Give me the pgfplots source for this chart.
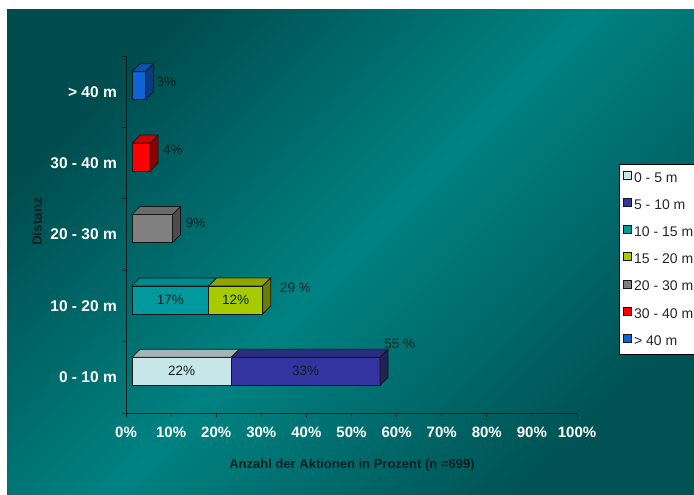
\documentclass[border=0pt]{standalone}
\usepackage{pgfplots}
\pgfplotsset{compat=1.18}
\usepackage{fontspec}
\setmainfont{Liberation Sans}

% background
\definecolor{bgA}{HTML}{004C4E}
\definecolor{bgB}{HTML}{008282}
\definecolor{bgC}{HTML}{005254}
\definecolor{axisdark}{HTML}{0A1E1E}
\definecolor{labeldark}{HTML}{0C2020}
\definecolor{edgec}{HTML}{151515}
% series colours: front, top, side
\definecolor{cA}{HTML}{C6E6EA}\definecolor{cAtop}{HTML}{A7B4B6}\definecolor{cAside}{HTML}{8A9A9C}
\definecolor{cB}{HTML}{3434A0}\definecolor{cBtop}{HTML}{2B2B80}\definecolor{cBside}{HTML}{212158}
\definecolor{cC}{HTML}{009A9E}\definecolor{cCtop}{HTML}{00898C}\definecolor{cCside}{HTML}{006A6C}
\definecolor{cD}{HTML}{A6CC00}\definecolor{cDtop}{HTML}{8CA800}\definecolor{cDside}{HTML}{6C7C00}
\definecolor{cE}{HTML}{808080}\definecolor{cEtop}{HTML}{6A6A6A}\definecolor{cEside}{HTML}{4C4C4C}
\definecolor{cF}{HTML}{FF0000}\definecolor{cFtop}{HTML}{D20000}\definecolor{cFside}{HTML}{8E0000}
\definecolor{cG}{HTML}{0E64D4}\definecolor{cGtop}{HTML}{0A52AC}\definecolor{cGside}{HTML}{073C80}

\tikzset{
  bar3d/.style={xshift=6bp, yshift=6bp, draw=edgec, line width=0.7bp},
  vlab/.style={font=\fontsize{13.5bp}{15bp}\selectfont, text=labeldark, inner sep=0pt},
}

% half bar height, depth offsets (axis units)
\def\hh{0.196}
\def\dyy{0.112}
\def\dxx{1.77}

% one bar segment: start, value, category, front colour, top colour
\newcommand{\barseg}[5]{%
  \pgfmathsetmacro\xe{#1+#2}%
  \pgfmathsetmacro\ylo{#3-\hh}%
  \pgfmathsetmacro\yhi{#3+\hh}%
  \pgfmathsetmacro\ytp{#3+\hh+\dyy}%
  \pgfmathsetmacro\xa{#1+\dxx}%
  \pgfmathsetmacro\xb{\xe+\dxx}%
  \edef\tmp{\noexpand\addplot[forget plot, bar3d, fill=#4] coordinates {(#1,\ylo) (\xe,\ylo) (\xe,\yhi) (#1,\yhi)} -- cycle;
    \noexpand\addplot[forget plot, bar3d, fill=#5] coordinates {(#1,\yhi) (\xe,\yhi) (\xb,\ytp) (\xa,\ytp)} -- cycle;}%
  \tmp}
% right side face of a bar: end value, category, side colour
\newcommand{\barside}[3]{%
  \pgfmathsetmacro\ylo{#2-\hh}%
  \pgfmathsetmacro\ylp{#2-\hh+\dyy}%
  \pgfmathsetmacro\yhi{#2+\hh}%
  \pgfmathsetmacro\ytp{#2+\hh+\dyy}%
  \pgfmathsetmacro\xb{#1+\dxx}%
  \edef\tmp{\noexpand\addplot[forget plot, bar3d, fill=#3] coordinates {(#1,\ylo) (\xb,\ylp) (\xb,\ytp) (#1,\yhi)} -- cycle;}%
  \tmp}

\begin{document}
\begin{tikzpicture}[x=1bp,y=1bp]
\useasboundingbox (0,0) rectangle (694,495);
\clip (0,0) rectangle (694,495);
\fill[white] (0,0) rectangle (694,495);
\shade[top color=bgA, bottom color=bgC, middle color=bgB, shading angle=45] (7,0) rectangle (694,485);

\begin{axis}[
  at={(126bp,82bp)}, anchor=south west,
  scale only axis, width=451bp, height=357bp,
  xmin=0, xmax=100, ymin=-0.5, ymax=4.5,
  axis lines=left,
  x axis line style={-}, y axis line style={-},
  axis line style={draw=axisdark, line width=0.9bp},
  clip=false,
  tick align=outside,
  tick style={draw=axisdark, line width=0.9bp},
  xtick={0,10,...,100},
  xticklabels={0\%,10\%,20\%,30\%,40\%,50\%,60\%,70\%,80\%,90\%,100\%},
  major x tick style={draw=axisdark},
  major tick length=4bp,
  ytick={0,1,2,3,4},
  yticklabels={0 - 10 m,10 - 20 m,20 - 30 m,30 - 40 m,> 40 m},
  major y tick style={draw=none},
  minor ytick={-0.5,0.5,1.5,2.5,3.5,4.5},
  minor tick length=4bp,
  minor y tick style={draw=axisdark},
  xticklabel style={text=white, font=\bfseries\fontsize{15bp}{18bp}\selectfont, inner sep=0pt, anchor=north, yshift=-10bp},
  yticklabel style={text=white, font=\bfseries\fontsize{15.5bp}{18bp}\selectfont, inner sep=0pt, anchor=east, xshift=-5bp},
  xlabel={Anzahl der Aktionen in Prozent (n =699)},
  xlabel style={at={(axis description cs:0.501,-0.1457)}, anchor=center, text=labeldark,
    font=\bfseries\fontsize{13bp}{15bp}\selectfont},
  ylabel={Distanz},
  ylabel style={at={(axis description cs:-0.197,0.535)}, anchor=center, text=labeldark,
    font=\bfseries\fontsize{13.5bp}{15bp}\selectfont},
  legend style={at={(axis description cs:1.093,0.697)}, anchor=north west,
    draw=black, fill=white, line width=0.8bp,
    font=\fontsize{14bp}{16bp}\selectfont, text=black!85,
    inner xsep=4bp, inner ysep=6.4bp, row sep=12.8bp, column sep=2bp,
    nodes={inner sep=0pt, text height=10bp, text depth=3bp, anchor=west}},
  legend cell align=left,
  legend image code/.code={\draw[#1, draw=edgec, line width=0.7bp] (0bp,-0.5bp) rectangle (8bp,7.5bp);},
]

% 0 - 10 m
\barseg{0}{22}{0}{cA}{cAtop}
\barseg{22}{33}{0}{cB}{cBtop}
\barside{55}{0}{cBside}
% 10 - 20 m
\barseg{0}{17}{1}{cC}{cCtop}
\barseg{17}{12}{1}{cD}{cDtop}
\barside{29}{1}{cDside}
% 20 - 30 m
\barseg{0}{9}{2}{cE}{cEtop}
\barside{9}{2}{cEside}
% 30 - 40 m
\barseg{0}{4}{3}{cF}{cFtop}
\barside{4}{3}{cFside}
% > 40 m
\barseg{0}{3}{4}{cG}{cGtop}
\barside{3}{4}{cGside}

% value labels
\node[vlab, xshift=6bp, yshift=6bp] at (axis cs:11,0) {22\%};
\node[vlab, xshift=6bp, yshift=6bp] at (axis cs:38.5,0) {33\%};
\node[vlab, xshift=6bp, yshift=6bp] at (axis cs:8.5,1) {17\%};
\node[vlab, xshift=6bp, yshift=6bp] at (axis cs:23,1) {12\%};
\node[vlab, anchor=west, xshift=10bp, yshift=33bp] at (axis cs:55,0) {55 \%};
\node[vlab, anchor=west, xshift=23bp, yshift=18bp] at (axis cs:29,1) {29 \%};
\node[vlab, anchor=west, xshift=19bp, yshift=12bp] at (axis cs:9,2) {9\%};
\node[vlab, anchor=west, xshift=19bp, yshift=13bp] at (axis cs:4,3) {4\%};
\node[vlab, anchor=west, xshift=17bp, yshift=10bp] at (axis cs:3,4) {3\%};

% legend
\addlegendimage{fill=cA}\addlegendentry{0 - 5 m}
\addlegendimage{fill=cB}\addlegendentry{5 - 10 m}
\addlegendimage{fill=cC}\addlegendentry{10 - 15 m}
\addlegendimage{fill=cD}\addlegendentry{15 - 20 m}
\addlegendimage{fill=cE}\addlegendentry{20 - 30 m}
\addlegendimage{fill=cF}\addlegendentry{30 - 40 m}
\addlegendimage{fill=cG}\addlegendentry{> 40 m}
\end{axis}
\end{tikzpicture}
\end{document}
